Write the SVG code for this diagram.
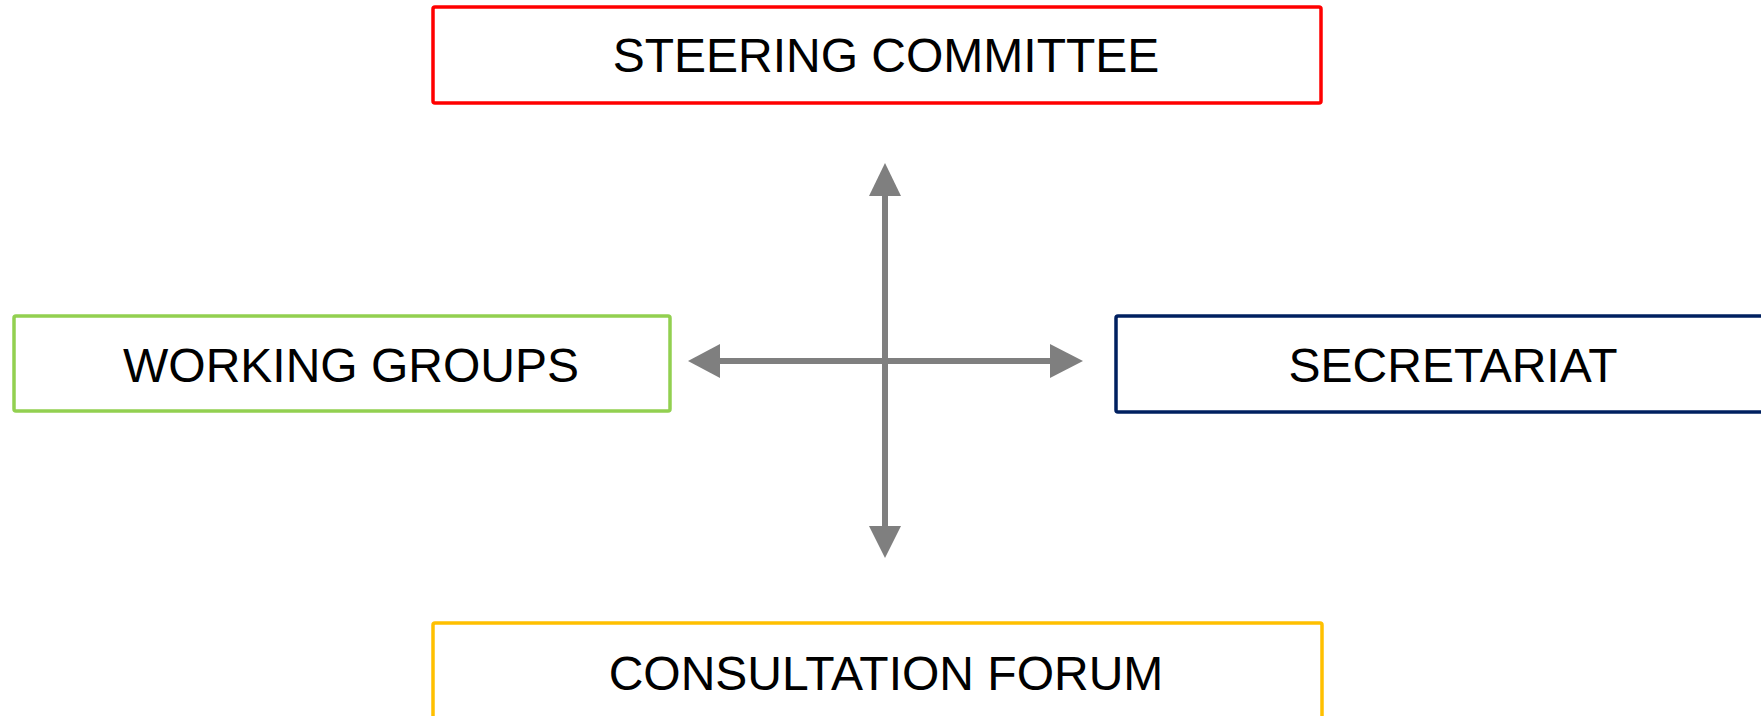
<svg xmlns="http://www.w3.org/2000/svg" width="1761" height="716" viewBox="0 0 1761 716">
<style>
.box{fill:#ffffff;stroke-width:3.5}
.lbl{font-family:"Liberation Sans",Arial,sans-serif;font-size:48px;fill:#000000;text-anchor:middle}
.conn{stroke:#7f7f7f;stroke-width:6;fill:none}
.head{fill:#7f7f7f}
</style>
<rect width="1761" height="716" fill="#ffffff"/>
<g id="steering-committee">
<rect class="box" x="433" y="7" width="888" height="96" rx="2" stroke="#ff0000"/>
<text class="lbl" x="886" y="72">STEERING COMMITTEE</text>
</g>
<g id="working-groups">
<rect class="box" x="14" y="316" width="656" height="95" rx="2" stroke="#92d050"/>
<text class="lbl" x="351" y="382">WORKING GROUPS</text>
</g>
<g id="secretariat">
<rect class="box" x="1116" y="316" width="700" height="96" rx="2" stroke="#002060"/>
<text class="lbl" x="1453" y="382">SECRETARIAT</text>
</g>
<g id="consultation-forum">
<rect class="box" x="433" y="623" width="889" height="120" rx="2" stroke="#ffc000"/>
<text class="lbl" x="886" y="690">CONSULTATION FORUM</text>
</g>
<g id="connectors">
<line class="conn" x1="885" y1="193" x2="885" y2="528"/>
<line class="conn" x1="718" y1="361" x2="1052" y2="361"/>
<polygon class="head" points="885,163 869,196 901,196"/>
<polygon class="head" points="885,558 869,526 901,526"/>
<polygon class="head" points="688,361 720,344 720,378"/>
<polygon class="head" points="1083,361 1050,344 1050,378"/>
</g>
</svg>
